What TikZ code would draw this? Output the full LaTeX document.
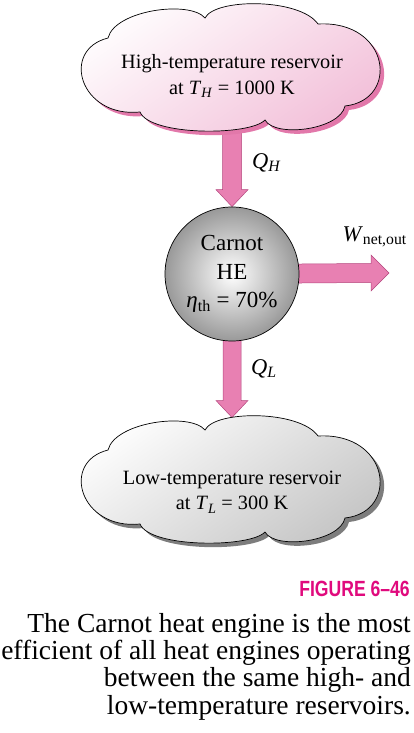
\documentclass[tikz,border=0pt]{standalone}
\usepackage{fontspec}
\setmainfont{Liberation Serif}
\newfontfamily\figfont[FakeStretch=0.8]{Liberation Sans}
\usetikzlibrary{backgrounds,positioning}
\definecolor{flowpink}{RGB}{232,128,178}
\definecolor{flowedge}{RGB}{180,70,125}
\definecolor{hotpink}{RGB}{242,190,216}
\definecolor{hotshadow}{RGB}{226,120,170}
\definecolor{coldgray}{RGB}{196,196,196}
\definecolor{coldshadow}{RGB}{125,125,125}
\definecolor{figmagenta}{RGB}{224,10,125}
\tikzset{
  pics/reservoir/.style 2 args={code={
    \fill[#2, shift={(4,-4)}] (-92,-46) .. controls (-152,-52) and (-172,16) .. (-124,28) .. controls (-117,56) and (-42,66) .. (-27,48) .. controls (-17,68) and (68,68) .. (86,42) .. controls (158,46) and (168,-34) .. (113,-40) .. controls (108,-64) and (43,-72) .. (33,-54) .. controls (18,-70) and (-82,-70) .. (-92,-46) -- cycle;
    \shade[top color=white, bottom color=#1, shading angle=35, draw=black, line width=0.7pt] (-92,-46) .. controls (-152,-52) and (-172,16) .. (-124,28) .. controls (-117,56) and (-42,66) .. (-27,48) .. controls (-17,68) and (68,68) .. (86,42) .. controls (158,46) and (168,-34) .. (113,-40) .. controls (108,-64) and (43,-72) .. (33,-54) .. controls (18,-70) and (-82,-70) .. (-92,-46) -- cycle;
    \coordinate (-north) at (0,60.5);
    \coordinate (-south) at (0,-50);
  }},
  engine/.style={circle, draw=black, line width=0.7pt, minimum size=134pt, inner sep=0pt, inner color=white, outer color=black!40, align=center, font=\fontsize{23}{28.5}\selectfont},
  txt/.style={align=center, inner sep=0pt, font=\fontsize{20.3}{25.5}\selectfont},
  flow/.style={fill=flowpink, draw=flowedge, line width=0.5pt, line join=miter}
}
\begin{document}
\begin{tikzpicture}[x=1pt,y=1pt]
\useasboundingbox (0,0) rectangle (413,-733);
\pic (hot) at (232,-66) {reservoir={hotpink}{hotshadow}};
\node[txt] (hottext) at (232,-76) {High-temperature reservoir\\at \textit{T}\textsubscript{\textit{H}} = 1000 K};
\node[engine] (he) at (232,-274) {Carnot\\HE\\\textit{η}\textsubscript{th} = 70\%};
\pic (cold) at (232,-478) {reservoir={coldgray}{coldshadow}};
\node[txt] (coldtext) at (232,-492) {Low-temperature reservoir\\at \textit{T}\textsubscript{\textit{L}} = 300 K};
\node[txt, font=\fontsize{22.5}{25}\selectfont, anchor=west] (qh) at (252,-163) {\textit{Q}\textsubscript{\textit{H}}};
\node[txt, font=\fontsize{22.5}{25}\selectfont, anchor=west] (ql) at (251,-369) {\textit{Q}\textsubscript{\textit{L}}};
\node[txt, font=\fontsize{22.5}{25}\selectfont, anchor=east] (wout) at (407,-237) {\textit{W}\textsubscript{net,out}};
\begin{scope}[on background layer]
\draw[flow] ([xshift=-9.5pt]hot-south) -- ([xshift=-9.5pt,yshift=17pt]he.north) -- ([xshift=-16pt,yshift=17pt]he.north) -- (he.north) -- ([xshift=16pt,yshift=17pt]he.north) -- ([xshift=9.5pt,yshift=17pt]he.north) -- ([xshift=9.5pt]hot-south) -- cycle;
\draw[flow] ([xshift=-9pt]he.center) -- ([xshift=-9pt,yshift=17pt]cold-north) -- ([xshift=-16pt,yshift=17pt]cold-north) -- (cold-north) -- ([xshift=16pt,yshift=17pt]cold-north) -- ([xshift=9pt,yshift=17pt]cold-north) -- ([xshift=9pt]he.center) -- cycle;
\coordinate (wtip) at (389,-273);
\draw[flow] ([yshift=9.5pt]he.center) -- ([xshift=-18pt,yshift=9.5pt]wtip) -- ([xshift=-18pt,yshift=18pt]wtip) -- (wtip) -- ([xshift=-18pt,yshift=-18pt]wtip) -- ([xshift=-18pt,yshift=-9.5pt]wtip) -- ([yshift=-9.5pt]he.center) -- cycle;
\end{scope}
\node[anchor=base east, inner sep=0pt, text=figmagenta, font=\figfont\bfseries\fontsize{22}{22}\selectfont] (fignum) at (410,-596) {FIGURE 6–46};
\node[anchor=north east, inner sep=0pt, align=right, font=\fontsize{27.5}{27.3}\selectfont] (caption) at (411,-613) {The Carnot heat engine is the most\\efficient of all heat engines operating\\between the same high- and\\low-temperature reservoirs.};
\end{tikzpicture}
\end{document}
